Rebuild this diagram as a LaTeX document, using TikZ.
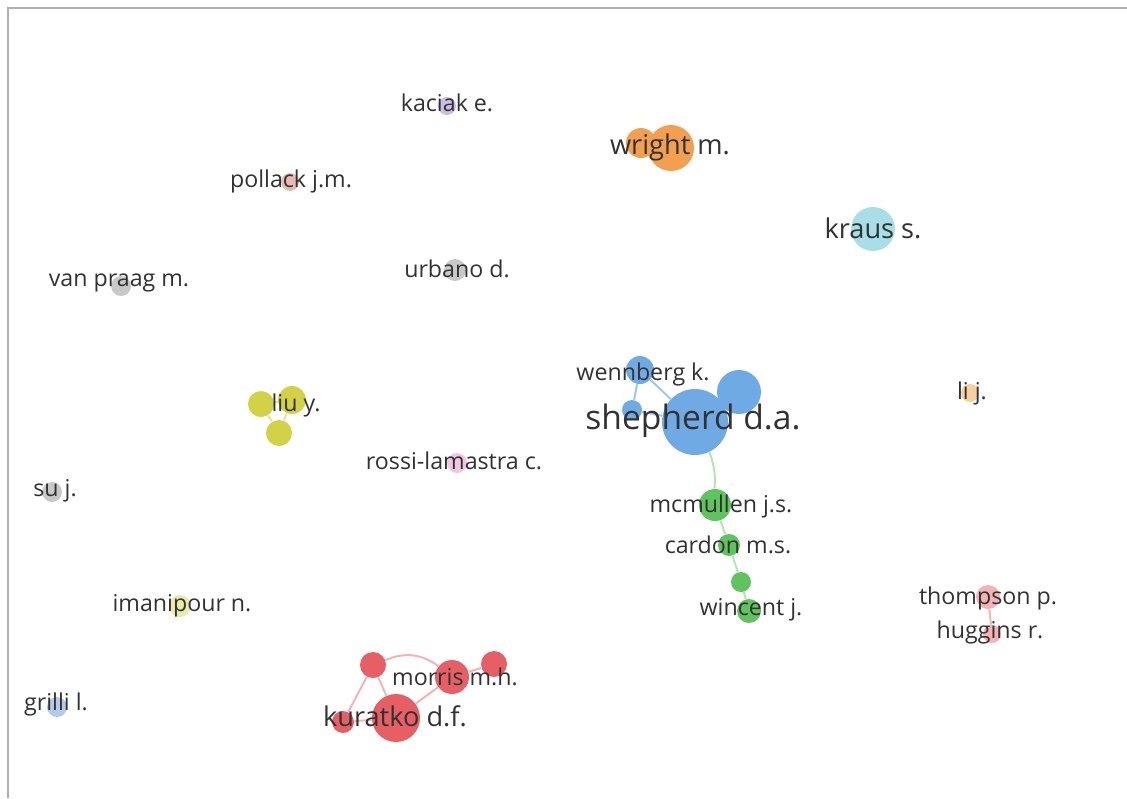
\documentclass[tikz,border=0pt]{standalone}
\usepackage{fontspec}
\setmainfont{Open Sans}
\usepackage{tikz}
\usetikzlibrary{backgrounds}

\definecolor{framegray}{RGB}{175,175,175}
\definecolor{labgray}{RGB}{50,50,50}
\definecolor{shblue}{RGB}{112,170,228}
\definecolor{edgeblue}{RGB}{160,200,238}
\definecolor{mcgreen}{RGB}{95,195,95}
\definecolor{edgegreen}{RGB}{180,228,180}
\definecolor{kured}{RGB}{230,95,100}
\definecolor{edgered}{RGB}{244,180,180}
\definecolor{liuyellow}{RGB}{210,210,70}
\definecolor{edgeyellow}{RGB}{228,228,160}
\definecolor{wrorange}{RGB}{242,160,80}
\definecolor{krcyan}{RGB}{168,222,230}
\definecolor{thpink}{RGB}{244,178,182}
\definecolor{lijorange}{RGB}{246,208,158}
\definecolor{kalilac}{RGB}{205,188,228}
\definecolor{potan}{RGB}{230,188,178}
\definecolor{greydot}{RGB}{200,200,200}
\definecolor{ropink}{RGB}{240,198,228}
\definecolor{imyellow}{RGB}{234,234,172}
\definecolor{grblue}{RGB}{178,203,234}

\begin{document}
\begin{tikzpicture}[x=0.5pt,y=-0.5pt,
    bub/.style={circle,inner sep=0pt,draw=none,minimum size=#1},
    lab/.style={text=labgray,font=\fontsize{11.6}{14}\selectfont,inner sep=0pt},
    biglab/.style={lab,font=\fontsize{13.6}{16}\selectfont},
    hugelab/.style={lab,font=\fontsize{16.8}{20}\selectfont},
    link/.style={line width=1pt}]
    \useasboundingbox (0,0) rectangle (1127,798);
    \draw[framegray,line width=1pt] (8,798) -- (8,8) -- (1127,8);

    % shepherd cluster
    \node[bub=33,fill=shblue] (shep) at (695,422) {};
    \node[bub=22,fill=shblue] (shtr) at (739,392) {};
    \node[bub=14,fill=shblue] (wenn) at (640,370) {};
    \node[bub=10,fill=shblue] (shsm) at (632,410) {};
    % green chain
    \node[bub=16,fill=mcgreen] (mcm) at (715,505) {};
    \node[bub=11,fill=mcgreen] (card) at (729,545) {};
    \node[bub=10,fill=mcgreen] (grsm) at (741,582) {};
    \node[bub=12,fill=mcgreen] (winc) at (749,611) {};
    % kuratko cluster
    \node[bub=24,fill=kured] (kura) at (396,718) {};
    \node[bub=11,fill=kured] (kubl) at (343,722) {};
    \node[bub=13,fill=kured] (kutl) at (373,665) {};
    \node[bub=17,fill=kured] (morr) at (452,677) {};
    \node[bub=13,fill=kured] (kutr) at (494,664) {};
    % liu cluster
    \node[bub=13,fill=liuyellow] (liua) at (261,404) {};
    \node[bub=14,fill=liuyellow] (liub) at (292,400) {};
    \node[bub=13,fill=liuyellow] (liuc) at (279,433) {};
    % the rest
    \node[bub=15,fill=wrorange] (wrsm) at (641,143) {};
    \node[bub=23,fill=wrorange] (wrig) at (671,148) {};
    \node[bub=22,fill=krcyan] (kraus) at (873,229) {};
    \node[bub=12,fill=thpink] (thom) at (988,597) {};
    \node[bub=9,fill=thpink] (hugg) at (992,634) {};
    \node[bub=9,fill=lijorange] (lij) at (970,393) {};
    \node[bub=9,fill=kalilac] (kaci) at (447,106) {};
    \node[bub=9,fill=potan] (poll) at (290,182) {};
    \node[bub=11,fill=greydot] (urba) at (455,270) {};
    \node[bub=10,fill=greydot] (vanp) at (121,286) {};
    \node[bub=10,fill=ropink] (ross) at (457,463) {};
    \node[bub=10,fill=greydot] (suj) at (52,492) {};
    \node[bub=11,fill=imyellow] (iman) at (180,606) {};
    \node[bub=10,fill=grblue] (gril) at (57,707) {};

    \begin{scope}[on background layer]
      \draw[link,edgeblue] (wenn) -- (shsm) -- (shep) -- (wenn);
      \draw[link,edgeblue] (shep) -- (shtr);
      \draw[link,edgegreen] (shep) to[bend left=12] (mcm);
      \draw[link,edgegreen] (mcm) -- (card) -- (grsm) -- (winc);
      \draw[link,edgered] (kutl) to[bend left=30] (morr);
      \draw[link,edgered] (kutl) -- (kura) -- (morr) -- (kutr);
      \draw[link,edgered] (kutl) -- (kubl) -- (kura);
      \draw[link,edgeyellow] (liua) -- (liuc) -- (liub) -- (liua);
      \draw[link,edgered] (thom) -- (hugg);
    \end{scope}

    % labels
    \node[hugelab] (lshep) at (693,421) {shepherd d.a.};
    \node[lab] (lwenn) at (643,374) {wennberg k.};
    \node[lab] (lmcm) at (721,506) {mcmullen j.s.};
    \node[lab] (lcard) at (728,545) {cardon m.s.};
    \node[lab] (lwinc) at (751,610) {wincent j.};
    \node[lab] (lmorr) at (455,677) {morris m.h.};
    \node[biglab] (lkura) at (395,716) {kuratko d.f.};
    \node[lab] (lliu) at (296,405) {liu y.};
    \node[biglab] (lwrig) at (670,147) {wright m.};
    \node[biglab] (lkraus) at (873,228) {kraus s.};
    \node[lab] (lthom) at (988,598) {thompson p.};
    \node[lab] (lhugg) at (990,632) {huggins r.};
    \node[lab] (llij) at (972,393) {li j.};
    \node[lab] (lkaci) at (447,103) {kaciak e.};
    \node[lab] (lpoll) at (291,181) {pollack j.m.};
    \node[lab] (lurba) at (457,269) {urbano d.};
    \node[lab] (lvanp) at (119,283) {van praag m.};
    \node[lab] (lross) at (454,461) {rossi-lamastra c.};
    \node[lab] (lsuj) at (55,491) {su j.};
    \node[lab] (liman) at (182,606) {imanipour n.};
    \node[lab] (lgril) at (56,704) {grilli l.};
  \end{tikzpicture}
\end{document}
